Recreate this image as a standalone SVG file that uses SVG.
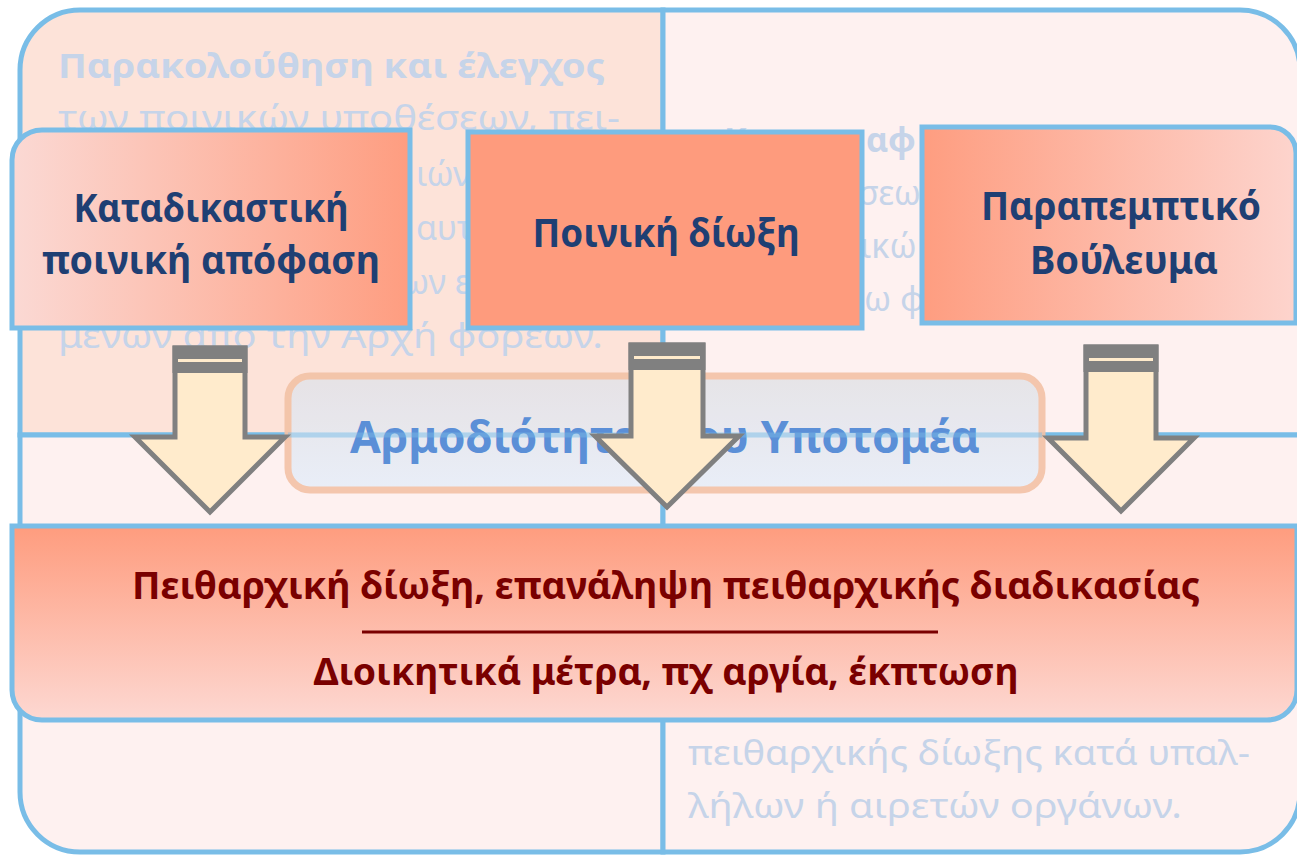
<svg xmlns="http://www.w3.org/2000/svg" width="1297" height="856" viewBox="0 0 1297 856">
<defs>
<linearGradient id="gL" x1="0" y1="0" x2="1" y2="0"><stop offset="0" stop-color="#fbd9d4"/><stop offset="1" stop-color="#fe9d80"/></linearGradient>
<linearGradient id="gR" x1="0" y1="0" x2="1" y2="0"><stop offset="0" stop-color="#fe9d80"/><stop offset="1" stop-color="#fdd4cd"/></linearGradient>
<linearGradient id="gB" x1="0" y1="0" x2="0" y2="1"><stop offset="0" stop-color="#fe9c7e"/><stop offset="1" stop-color="#fdd8d2"/></linearGradient>
<linearGradient id="gC" x1="0" y1="0" x2="0" y2="1"><stop offset="0" stop-color="#e4e3e7"/><stop offset="1" stop-color="#e7eef9"/></linearGradient>
<style>
.q{stroke:#79bde7;stroke-width:5}
.fd{font-family:"Noto Sans","Open Sans",sans-serif;font-size:34px;fill:#c6d4e9}
.b{font-weight:bold}
.box{stroke:#79bde7;stroke-width:5}
.lbl{font-family:"Noto Sans","Open Sans",sans-serif;font-size:40px;font-weight:bold;fill:#1f3f73;text-anchor:middle}
.red{font-family:"Noto Sans","Open Sans",sans-serif;font-size:37px;font-weight:bold;fill:#7a0000;text-anchor:middle}
.arr{fill:#ffebcc;stroke:#808080;stroke-width:5;stroke-linejoin:miter}
.cap{fill:#808080}
.capl{fill:#ffebcc}
</style>
</defs>
<g id="matrix">
<path class="q" fill="#fde3d9" d="M20,435 V70 A60,60 0 0 1 80,10 H663 V435 Z"/>
<path class="q" fill="#fef1f0" d="M663,10 H1240 A60,60 0 0 1 1300,70 V435 H663 Z"/>
<path class="q" fill="#fef1f0" d="M20,435 H663 V852 H80 A60,60 0 0 1 20,792 Z"/>
<path class="q" fill="#fef1f0" d="M663,435 H1300 V792 A60,60 0 0 1 1240,852 H663 Z"/>
</g>
<g id="faded-text">
<text class="fd b" x="58" y="78" textLength="547" lengthAdjust="spacingAndGlyphs">Παρακολούθηση και έλεγχος</text>
<text class="fd" x="58" y="130" textLength="562" lengthAdjust="spacingAndGlyphs">των ποινικών υποθέσεων, πει-</text>
<text class="fd" x="416" y="186">ιών</text>
<text class="fd" x="416" y="240">αυτ</text>
<text class="fd" x="402" y="294">ων ε</text>
<text class="fd" x="58" y="348" textLength="545" lengthAdjust="spacingAndGlyphs">μένων από την Αρχή φορέων.</text>
<text class="fd b" x="724" y="152">Κ</text>
<text class="fd b" x="866" y="152">αφ</text>
<text class="fd" x="858" y="205">σεω</text>
<text class="fd" x="860" y="258">ικώ</text>
<text class="fd" x="864" y="311">ω φ</text>
<text class="fd" x="688" y="765" textLength="562" lengthAdjust="spacingAndGlyphs">πειθαρχικής δίωξης κατά υπαλ-</text>
<text class="fd" x="688" y="818" textLength="494" lengthAdjust="spacingAndGlyphs">λήλων ή αιρετών οργάνων.</text>
</g>
<g id="center-title">
<rect x="288" y="376" width="754" height="114" rx="22" fill="url(#gC)" stroke="#f3c2a6" stroke-width="7" opacity="0.9"/>
<text x="665" y="453" font-family="Noto Sans, Open Sans, sans-serif" font-size="44" font-weight="bold" fill="#5b8fd7" text-anchor="middle" textLength="630" lengthAdjust="spacingAndGlyphs">Αρμοδιότητες του Υποτομέα</text>
<rect x="288" y="432.5" width="754" height="5" fill="#79bde7" opacity="0.45"/>
</g>
<g id="box-katadikastiki">
<path class="box" fill="url(#gL)" d="M12,160 A30,30 0 0 1 42,130 H410 V328 H12 Z"/>
<text class="lbl" x="211" y="222" textLength="275" lengthAdjust="spacingAndGlyphs">Καταδικαστική</text>
<text class="lbl" x="211" y="274" textLength="338" lengthAdjust="spacingAndGlyphs">ποινική απόφαση</text>
</g>
<g id="box-poiniki">
<rect class="box" x="468" y="132" width="394" height="196" fill="#fe9b7d"/>
<text class="lbl" x="666" y="247" textLength="267" lengthAdjust="spacingAndGlyphs">Ποινική δίωξη</text>
</g>
<g id="box-vouleuma">
<path class="box" fill="url(#gR)" d="M922,127 H1270 A26,26 0 0 1 1296,153 V323 H922 Z"/>
<text class="lbl" x="1121" y="220" textLength="280" lengthAdjust="spacingAndGlyphs">Παραπεμπτικό</text>
<text class="lbl" x="1124" y="274" textLength="188" lengthAdjust="spacingAndGlyphs">Βούλευμα</text>
</g>
<g id="connectors">
<g id="arrow1">
<polygon class="arr" points="175,348 245,348 245,437 285,437 210,512 135,437 175,437"/>
<rect class="cap" x="172.5" y="345.5" width="75" height="27.5"/>
<rect class="capl" x="178" y="359" width="64" height="3"/>
</g>
<g id="arrow2">
<polygon class="arr" points="631,345 703,345 703,436 739,436 667,507 595,436 631,436"/>
<rect class="cap" x="628.5" y="342.5" width="77" height="27.5"/>
<rect class="capl" x="634" y="356" width="66" height="3"/>
</g>
<g id="arrow3">
<polygon class="arr" points="1086,347 1156,347 1156,438 1194,438 1121,511 1048,438 1086,438"/>
<rect class="cap" x="1083.5" y="344.5" width="75" height="27.5"/>
<rect class="capl" x="1089" y="358" width="64" height="3"/>
</g>
</g>
<g id="box-peitharchiki">
<path class="box" fill="url(#gB)" d="M12,526 H1297 V690 A30,30 0 0 1 1267,720 H42 A30,30 0 0 1 12,690 Z"/>
<text class="red" x="666" y="599" textLength="1068" lengthAdjust="spacingAndGlyphs">Πειθαρχική δίωξη, επανάληψη πειθαρχικής διαδικασίας</text>
<line x1="362" y1="632" x2="938" y2="632" stroke="#7a0000" stroke-width="3"/>
<text class="red" x="666" y="685" textLength="705" lengthAdjust="spacingAndGlyphs">Διοικητικά μέτρα, πχ αργία, έκπτωση</text>
</g>
</svg>
